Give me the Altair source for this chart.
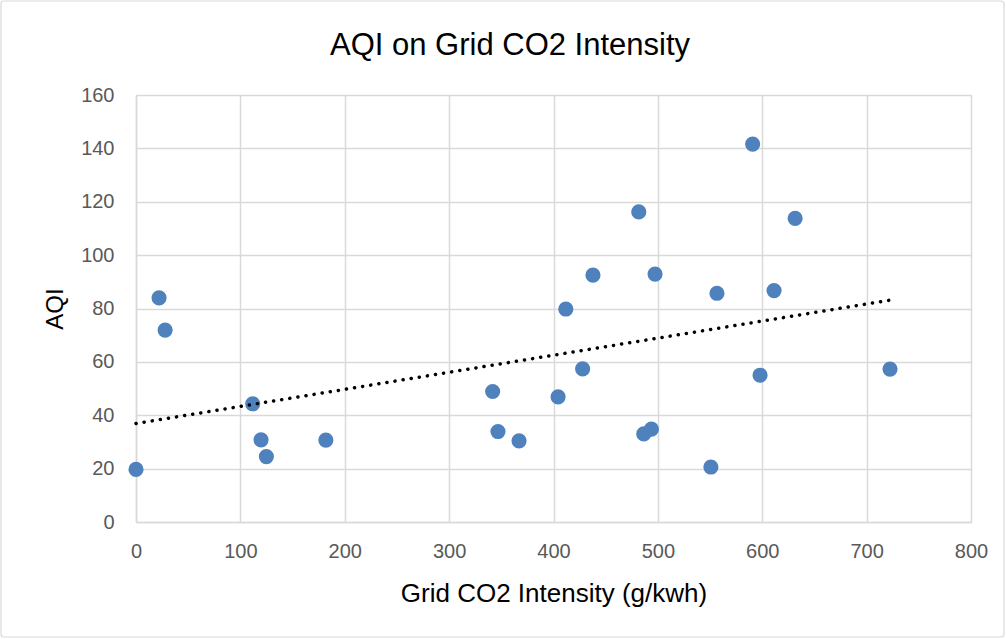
import altair as alt
import pandas as pd

co2 = [0, 22.1, 27.9, 111.8, 119.8, 124.9, 181.9, 341.7, 346.8, 367.0, 404.4, 411.8,
       427.9, 437.8, 481.7, 486.5, 493.8, 497.3, 550.8, 556.6, 590.8, 597.9, 611.3,
       631.5, 722.4]
aqi = [19.7, 84.0, 71.9, 44.3, 30.8, 24.5, 30.7, 48.9, 33.9, 30.4, 46.9, 79.8,
       57.4, 92.5, 116.2, 33.0, 34.8, 92.9, 20.6, 85.7, 141.6, 55.0, 86.7,
       113.8, 57.3]
chart_title = ["AQI on Grid CO2 Intensity"]

df = pd.DataFrame({"co2": co2, "aqi": aqi})
tdf = pd.DataFrame({"t": chart_title})

x_enc = alt.X("co2:Q", scale=alt.Scale(domain=[0, 800], nice=False),
              axis=alt.Axis(title="Grid CO2 Intensity (g/kwh)", values=list(range(0, 801, 100)),
                            labelFontSize=20, labelColor="#595959", labelFont="Liberation Sans",
                            labelPadding=19, labelFlush=False, labelOverlap=False,
                            ticks=False, domainColor="#d9d9d9", domainWidth=1.5,
                            gridColor="#d9d9d9", gridWidth=1.5,
                            titleFontSize=26, titleFont="Liberation Sans", titleFontWeight="normal",
                            titleColor="#000000", titlePadding=19))
y_enc = alt.Y("aqi:Q", scale=alt.Scale(domain=[0, 160], nice=False),
              axis=alt.Axis(title="AQI", values=list(range(0, 161, 20)),
                            labelFontSize=20, labelColor="#595959", labelFont="Liberation Sans",
                            labelPadding=22, labelFlush=False, labelOverlap=False,
                            ticks=False, domainColor="#d9d9d9", domainWidth=1.5,
                            gridColor="#d9d9d9", gridWidth=1.5,
                            titleFontSize=24, titleFont="Liberation Sans", titleFontWeight="normal",
                            titleColor="#000000", titlePadding=13))

border = alt.Chart(tdf).mark_rect(fill="transparent", stroke="#d9d9d9", strokeWidth=1.2,
                                  cornerRadius=3, clip=False).encode(
    x=alt.value(-135), x2=alt.value(868), y=alt.value(-94), y2=alt.value(542)
)

title = alt.Chart(tdf).mark_text(font="Liberation Sans", fontSize=31, color="#000000",
                                 align="center", baseline="middle").encode(
    x=alt.value(374), y=alt.value(-49), text="t:N"
)

points = alt.Chart(df).mark_circle(size=230, color="#4f81bd", opacity=1).encode(x=x_enc, y=y_enc)

trend = alt.Chart(df).transform_regression("co2", "aqi").mark_line(
    color="black", strokeWidth=3.5, strokeDash=[0.1, 8.1], strokeCap="round"
).encode(x="co2:Q", y="aqi:Q")

chart = alt.layer(points, trend, border, title).properties(
    width=835, height=427,
    autosize=alt.AutoSizeParams(type="none"),
    padding={"left": 136, "top": 95, "right": 35, "bottom": 117},
).configure_view(stroke=None).configure(background="white")

chart.save("out.html", embed_options={"renderer": "svg", "actions": False})
